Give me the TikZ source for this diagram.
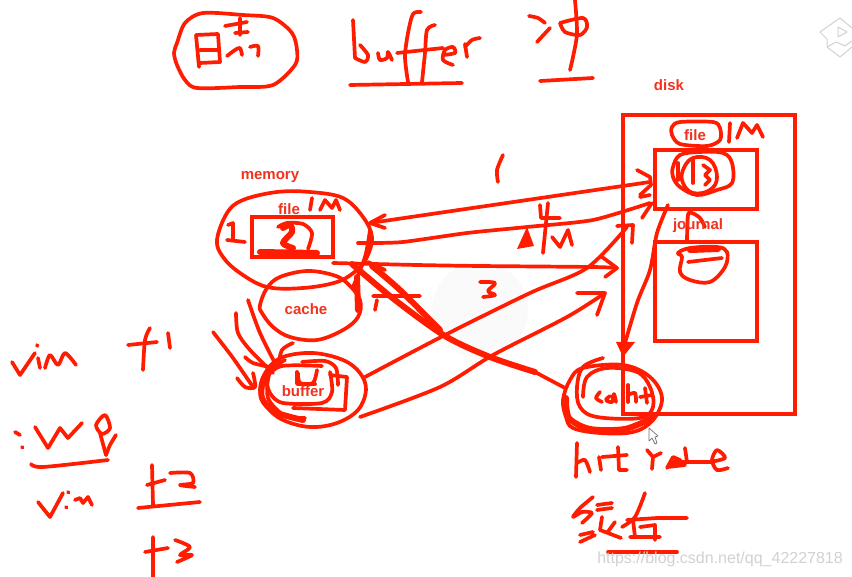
\documentclass[tikz,border=0pt]{standalone}
\usepackage{fontspec}
\setmainfont{Liberation Sans}
\usepackage{tikz}
\usetikzlibrary{arrows.meta,positioning,calc}
\definecolor{PenRojo}{RGB}{255, 28, 0}
\definecolor{LabelRojo}{RGB}{240, 50, 30}
\colorlet{marca}{black!18}
\tikzset{
  pen/.style={draw=PenRojo,line width=3.7pt,line cap=round,line join=round},
  fatpen/.style={pen,line width=6pt},
  boxpen/.style={draw=PenRojo,line width=4pt,line join=miter},
  tag/.style={font=\fontsize{15}{16}\selectfont\bfseries,text=LabelRojo,inner sep=0pt},
  wmark/.style={font=\fontsize{16}{18}\selectfont,text=marca,inner sep=0pt,anchor=east}
}
\begin{document}
\begin{tikzpicture}[x=1pt,y=-1pt]
  \useasboundingbox (0,0) rectangle (852,577);
  \fill[black!2] (480,310) circle (48);
  % title row
  \draw[pen] plot[smooth cycle,tension=.5] coordinates {(177,43) (185,23) (203,13) (243,15) (273,18) (292,33) (297,50) (295,65) (273,85) (240,87) (197,88) (185,80) (177,65) (174,53)};
  \draw[pen] (196,35) -- (199,67) (196,35) -- (218,34) -- (220,62) -- (200,63) (200,50) -- (218,50);
  \draw[pen] (240,18) -- (240,35) (225,26) -- (247,22) (235,33) -- (248,32);
  \draw[pen] plot[smooth] coordinates {(227,56) (235,50) (240,48) (242,55)};
  \draw[pen] plot[smooth] coordinates {(250,47) (258,46) (258,56)};
  \draw[pen] (353,20) -- (355,58);
  \draw[pen] plot[smooth] coordinates {(355,58) (365,62) (368,55) (360,45)};
  \draw[pen] plot[smooth] coordinates {(378,53) (380,60) (387,58) (388,52) (392,60)};
  \draw[pen] plot[smooth] coordinates {(421,12) (413,14) (408,33) (405,57) (408,82)};
  \draw[pen] plot[smooth] coordinates {(435,25) (427,30) (425,53) (422,82)};
  \draw[pen] (397,53) -- (443,48);
  \draw[pen] plot[smooth] coordinates {(443,55) (455,53) (453,47) (445,50) (443,60) (453,65)};
  \draw[pen] (465,44) -- (467,57);
  \draw[pen] plot[smooth] coordinates {(465,47) (472,40) (480,38)};
  \draw[pen] (350,85) -- (462,83);
  \draw[pen] plot[smooth] coordinates {(529,16) (538,18) (545,23)};
  \draw[pen] (537,42) -- (550,28);
  \draw[pen] plot[smooth] coordinates {(560,23) (583,18) (587,27) (580,35) (565,32) (560,23)};
  \draw[pen] plot[smooth] coordinates {(575,0) (577,33) (573,57) (570,70)};
  \draw[pen] (540,81) -- (593,78);
  % memory side
  \draw[pen] plot[smooth cycle,tension=.6] coordinates {(217,240) (227,213) (243,200) (277,192) (310,192) (343,198) (363,217) (372,237) (367,257) (357,270) (337,282) (303,288) (267,287) (240,273) (223,257)};
  \draw[boxpen] (252,217) rectangle (333,257);
  \draw[pen] (312,198) -- (310,210);
  \draw[pen] (320,210) -- (325,200) -- (332,208) -- (336,200) -- (340,210);
  \draw[pen] (228,225) -- (233,223) -- (233,240) (227,240) -- (245,242);
  \draw[pen] plot[smooth] coordinates {(278,227) (287,223) (303,224) (312,233) (308,249)};
  \draw[fatpen] (260,252) -- (317,253);
  \draw[fatpen] plot[smooth] coordinates {(283,228) (290,225) (292,232) (283,243) (293,248)};
  \draw[pen] plot[smooth cycle,tension=.6] coordinates {(260,305) (267,288) (280,277) (307,271) (333,275) (347,283) (360,300) (358,317) (343,330) (317,340) (290,337) (273,327) (262,313)};
  \draw[fatpen] (357,277) -- (358,310);
  \node[tag] (memorylabel) at (270,177) {memory};
  \node[tag] (filelabel) at (289,209) {file};
  \node[tag] (cachelabel) at (306,309) {cache};
  % buffer and the strokes into it
  \draw[pen] plot[smooth cycle,tension=.6] coordinates {(260,390) (267,370) (283,357) (313,353) (343,360) (360,373) (366,390) (358,410) (337,423) (310,427) (283,420) (267,407)};
  \draw[pen] (330,375) -- (347,377) -- (345,410) -- (293,408);
  \draw[pen] plot[smooth] coordinates {(330,372) (332,392) (322,403) (283,403) (270,393) (267,377) (282,366) (322,366)};
  \draw[pen] plot[smooth] coordinates {(298,373) (300,383) (313,383) (317,370)};
  \draw[pen] (297,372) -- (297,384) -- (315,384);
  \draw[pen] plot[smooth] coordinates {(302,362) (325,361) (336,368) (338,385)};
  \draw[fatpen] plot[smooth] coordinates {(278,365) (264,378) (262,398) (275,412) (303,420)};
  \draw[pen] plot[smooth] coordinates {(285,360) (270,372) (268,398) (285,416) (305,418)};
  \draw[pen] plot[smooth] coordinates {(213,332) (233,358) (253,387)};
  \draw[pen] plot[smooth] coordinates {(237,378) (245,387) (255,387) (253,373)};
  \draw[pen] plot[smooth] coordinates {(236,313) (238,333) (250,350) (273,373)};
  \draw[pen] plot[smooth] coordinates {(248,300) (260,333) (277,367)};
  \draw[pen] plot[smooth] coordinates {(245,357) (253,363) (270,367)};
  \draw[pen] plot[smooth] coordinates {(293,343) (282,350) (278,367)};
  \node[tag] (bufferlabel) at (303,391) {buffer};
  % disk side
  \draw[boxpen] (623,115) rectangle (795,414);
  \draw[boxpen] (655,150) rectangle (757,209);
  \draw[boxpen] (655,242) rectangle (757,341);
  \draw[pen] plot[smooth cycle,tension=.5] coordinates {(672,127) (680,122) (713,122) (720,128) (720,140) (707,146) (680,144) (672,135)};
  \draw[pen] (730,123) -- (729,142);
  \draw[pen] (737,138) -- (743,123) -- (752,133) -- (757,125) -- (763,137);
  \draw[pen] plot[smooth cycle,tension=.6] coordinates {(673,167) (680,155) (700,152) (723,153) (732,163) (732,183) (717,190) (697,195) (680,187) (673,177)};
  \draw[pen] plot[smooth cycle,tension=.7] coordinates {(683,170) (693,158) (710,160) (717,177) (710,190) (693,193) (683,183)};
  \draw[pen] (678,163) -- (678,180) (693,160) -- (693,183);
  \draw[pen] (703,165) -- (710,170) -- (705,175) -- (710,180) -- (705,185);
  \draw[pen] plot[smooth cycle,tension=.6] coordinates {(678,253) (690,248) (717,247) (727,252) (725,267) (710,282) (690,280) (680,272) (682,257)};
  \draw[pen] (688,262) -- (722,258);
  \draw[fatpen] (690,250) -- (718,249);
  \draw[pen] plot[smooth] coordinates {(687,240) (688,215) (692,213) (700,218) (705,227)};
  \node[tag] (disklabel) at (669,85) {disk};
  \node[tag] (diskfilelabel) at (695,135) {file};
  \node[tag] (journallabel) at (698,226) {journal};
  % arrows between memory, disk and the read cache
  \coordinate (memin) at (370,223);
  \coordinate (fileinA) at (650,182);
  \coordinate (memoutB) at (370,243);
  \coordinate (fileinB) at (650,203);
  \coordinate (memoutC) at (333,263);
  \coordinate (diskinC) at (617,268);
  \coordinate (bufoutD) at (365,377);
  \coordinate (diskinD) at (627,227);
  \coordinate (bufoutE) at (360,417);
  \coordinate (diskinE) at (605,293);
  \coordinate (filedown) at (668,205);
  \coordinate (readin) at (623,350);
  \coordinate (readout) at (565,388);
  \draw[pen] (memin) -- (fileinA);
  \draw[pen] (385,215) -- (memin) -- (385,228);
  \draw[pen] (637,170) -- (650,177) -- (651,185) -- (640,195);
  \draw[pen] plot[smooth,tension=.4] coordinates {(memoutB) (403,242) (467,233) (527,227) (593,220) (fileinB)};
  \draw[pen] (640,197) -- (650,195) (652,203) -- (642,218);
  \draw[pen] plot[smooth,tension=.4] coordinates {(memoutC) (417,265) (480,266) (593,267) (diskinC)};
  \draw[pen] (602,257) -- (diskinC) -- (605,277);
  \draw[pen] plot[smooth,tension=.5] coordinates {(bufoutD) (445,335) (530,293) (587,268) (diskinD)};
  \draw[pen] (617,226) -- (633,225) -- (632,243);
  \draw[pen] plot[smooth,tension=.5] coordinates {(bufoutE) (440,387) (493,355) (567,317) (diskinE)};
  \draw[pen] (577,293) -- (diskinE) -- (597,315);
  \draw[pen] plot[smooth,tension=.5] coordinates {(filedown) (657,233) (650,270) (637,303) (readin)};
  \fill[PenRojo] (616,342) -- (635,342) -- (623,357) -- cycle;
  \draw[fatpen] plot[smooth,tension=.5] coordinates {(352,264) (395,300) (445,336) (490,357) (535,372)};
  \draw[fatpen] plot[smooth,tension=.5] coordinates {(372,266) (400,290) (440,330)};
  \draw[pen] (535,372) -- (readout);
  \draw[pen] (358,243) -- (372,243);
  \draw[pen] plot[smooth] coordinates {(370,230) (365,257) (353,287)};
  \draw[pen] (373,296) -- (420,296) (375,310) -- (377,300);
  \draw[pen] (385,270) -- (368,262);
  % read cache
  \draw[pen] plot[smooth cycle,tension=.6] coordinates {(563,400) (570,380) (583,368) (623,365) (650,377) (662,398) (653,420) (633,432) (600,433) (573,428) (566,417)};
  \draw[pen] plot[smooth,tension=.6] coordinates {(603,358) (583,367) (577,387) (580,407) (597,417) (640,418) (653,407) (650,387) (637,372) (607,368) (587,377) (583,397)};
  \draw[fatpen] plot[smooth] coordinates {(566,398) (569,418) (590,429) (625,429) (652,418)};
  \draw[pen] (623,365) -- (623,414);
  \draw[pen] plot[smooth] coordinates {(600,392) (596,398) (602,402)};
  \draw[pen] plot[smooth] coordinates {(610,396) (606,400) (612,402) (614,394) (616,402)};
  \draw[pen] (628,385) -- (628,402);
  \draw[pen] plot[smooth] coordinates {(628,395) (635,393) (636,402)};
  \draw[pen] (645,388) -- (647,403) (640,397) -- (652,395);
  % arrow labels
  \draw[pen] plot[smooth] coordinates {(503,155) (497,170) (498,182)};
  \draw[pen] (540,205) -- (541,218) -- (560,218) (548,203) -- (543,253);
  \fill[PenRojo] (517,249) -- (527,227) -- (534,246) -- cycle;
  \draw[pen] (552,237) -- (560,247) -- (568,230) -- (572,245);
  \draw[pen] plot[smooth,tension=.6] coordinates {(480,282) (495,283) (488,291) (495,295) (483,297)};
  % left notes
  \draw[pen] (12,362) -- (20,375) -- (35,353);
  \draw[pen] (37,345) -- (37.5,346) (38,358) -- (40,368);
  \draw[pen] plot[smooth] coordinates {(45,368) (50,355) (58,365) (65,353) (76,365)};
  \draw[pen] (128,345) -- (157,342);
  \draw[pen] plot[smooth] coordinates {(150,328) (145,340) (143,370)};
  \draw[pen] (168,333) -- (170,348);
  \draw[pen] (15,432) -- (20,435) (22,447) -- (22.5,447.5);
  \draw[pen] (35,427) -- (48,448) -- (60,428) -- (68,438) -- (82,423);
  \draw[pen] plot[smooth cycle] coordinates {(105,415) (96,425) (102,434) (110,428)};
  \draw[pen] plot[smooth] coordinates {(116,435) (110,445) (106,455)};
  \draw[pen] (100,433) -- (106,455);
  \draw[pen] plot[smooth] coordinates {(31,464) (43,467) (108,460)};
  \draw[pen] (38,502) -- (50,517) -- (63,493);
  \draw[pen] (68,492) -- (68.5,492.5) (66,507) -- (66.5,507.5);
  \draw[pen] (75,500) -- (80,498) -- (83,503) -- (88,497) -- (92,505);
  \draw[pen] (152,465) -- (153,505) (147,485) -- (165,480);
  \draw[pen] plot[smooth] coordinates {(170,473) (190,473) (193,483) (180,485) (195,487)};
  \draw[pen] (138,508) -- (200,502);
  \draw[pen] (153,537) -- (153,577) (145,552) -- (168,548);
  \draw[pen] plot[smooth] coordinates {(175,540) (190,547) (180,555) (192,555) (177,562)};
  % hit rate
  \draw[pen] (577,443) -- (576,477);
  \draw[pen] plot[smooth] coordinates {(577,463) (585,460) (590,472)};
  \draw[pen] (599,457) -- (601,470);
  \draw[pen] (618,447) -- (619,470) -- (627,470) (602,457) -- (627,455);
  \draw[pen] (647,450) -- (653,457) -- (652,469) (653,457) -- (661,453);
  \draw[pen] (667,468) -- (673,457) -- (680,460) -- (668,467) -- (685,465);
  \draw[pen] (685,448) -- (687,462) (673,462) -- (710,462);
  \draw[pen] plot[smooth] coordinates {(710,462) (725,458) (717,450) (712,460) (717,470) (728,468)};
  \draw[pen] plot[smooth,tension=.4] coordinates {(593,497) (580,508) (573,517) (582,512) (592,513) (582,523)};
  \draw[pen] (580,535) -- (593,532) (580,542) -- (595,535);
  \draw[pen] (597,505) -- (612,503) (597,510) -- (612,508);
  \draw[pen] (602,517) -- (600,530) -- (621,538) (615,522) -- (607,533);
  \draw[pen] plot[smooth] coordinates {(645,493) (635,517) (622,527)};
  \draw[pen] (627,520) -- (657,518) -- (687,518) (633,520) -- (635,537);
  \draw[pen] (640,527) -- (655,525) -- (655,540) (630,537) -- (660,537);
  \draw[pen] (608,552) -- (677,552);
  % overlays from the screenshot
  \node[wmark] (watermark) at (843,559) {https://blog.csdn.net/qq\_42227818};
  \draw[marca,line width=1pt,line join=round] (820,32) -- (840,18) -- (852,28) (820,32) -- (827,39) -- (827,47) -- (840,57) -- (852,47) (827,47) -- (836,42) -- (845,46) -- (852,41) (838,27) -- (847,32) -- (838,37) -- cycle;
  \draw[black!55,fill=white,line width=.7pt,line join=round] (649,428) -- (649,441) -- (652,438) -- (655,444) -- (657,443) -- (655,437) -- (658,436) -- cycle;
\end{tikzpicture}
\end{document}
